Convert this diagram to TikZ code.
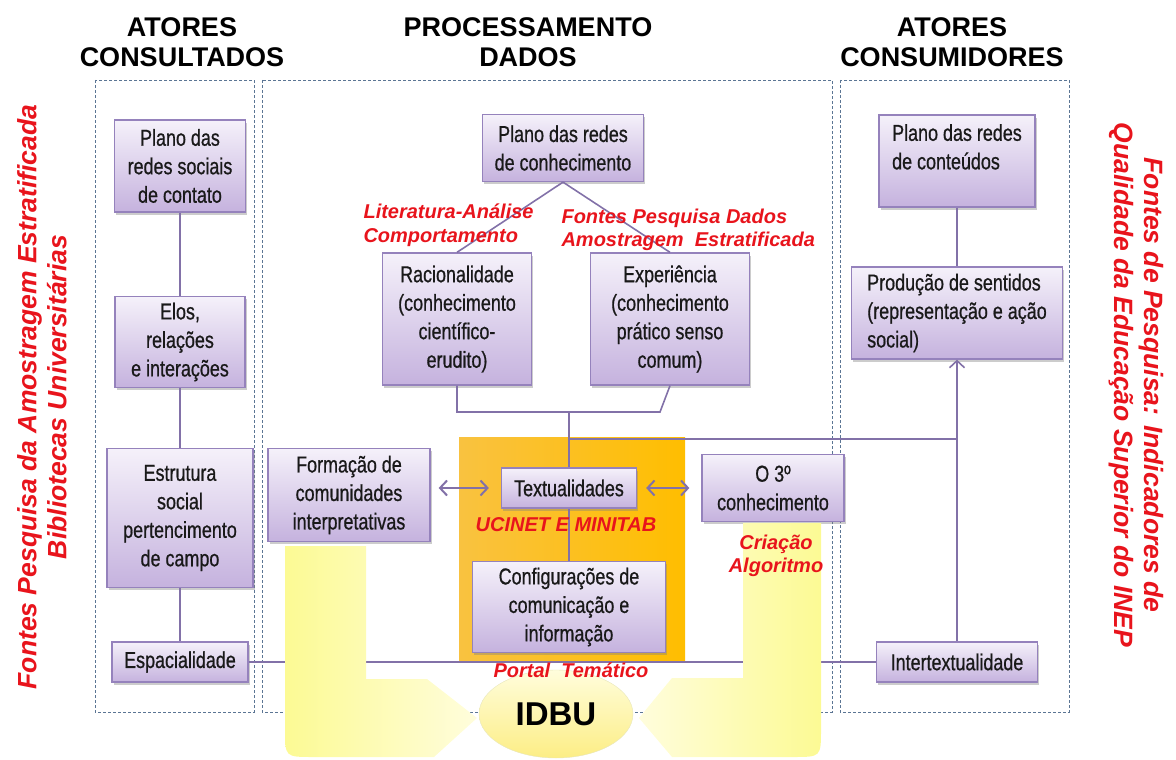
\documentclass[tikz,border=0pt]{standalone}
\usepackage{fontspec}
\setmainfont{Liberation Sans}
\newfontfamily\estreita[FakeStretch=0.78,FakeBold=0.7]{Liberation Sans}
\usetikzlibrary{shapes.geometric,shadows,arrows.meta}

\definecolor{caixaTopo}{HTML}{F5F1FA}
\definecolor{caixaBase}{HTML}{C5B2DE}
\definecolor{caixaBorda}{HTML}{9582BC}
\definecolor{linha}{HTML}{8271A8}
\definecolor{vermelho}{HTML}{E8141C}
\definecolor{tracejo}{HTML}{5B7594}
\definecolor{laranjaA}{HTML}{F9C240}
\definecolor{laranjaB}{HTML}{FFBE00}
\definecolor{amarelo}{HTML}{FCFA94}
\definecolor{amareloClaro}{HTML}{FFFDDC}

\tikzset{
	caixa/.style={rectangle, draw=caixaBorda, line width=1.3pt, top color=caixaTopo, bottom color=caixaBase,
		align=center, inner sep=2pt, text=black!90, font=\estreita\fontsize{23}{28.5}\selectfont,
		drop shadow={shadow xshift=1.5pt, shadow yshift=-2.5pt, opacity=.4}},
	ligacao/.style={draw=linha, line width=1.6pt},
	duplaseta/.style={draw=linha, line width=2pt, <->},
	rotulo/.style={text=vermelho, font=\bfseries\itshape\fontsize{20}{23.5}\selectfont, align=left},
	titulo/.style={font=\bfseries\fontsize{27}{30}\selectfont, align=center},
	lateral/.style={text=vermelho, font=\bfseries\itshape\fontsize{26.5}{30}\selectfont, align=center},
	tracejado/.style={draw=tracejo, dash pattern=on 3pt off 2pt, line width=0.9pt},
	>={Straight Barb[length=7pt,width=15pt]}
}

\begin{document}
\begin{tikzpicture}[x=1pt, y=-1pt]
	\useasboundingbox (0,0) rectangle (1176,760);
	%titles
	\node[titulo] (consultados) at (182,42) {ATORES\\CONSULTADOS};
	\node[titulo] (processamento) at (528,42) {PROCESSAMENTO\\DADOS};
	\node[titulo] (consumidores) at (952,42) {ATORES\\CONSUMIDORES};
	\node[lateral, rotate=90] (fontesEsq) at (42,397)
	{Fontes Pesquisa da Amostragem Estratificada\\Bibliotecas Universitárias};
	\node[lateral, rotate=-90] (fontesDir) at (1136,385)
	{Fontes de Pesquisa: Indicadores de\\Qualidade da Educação Superior do INEP};
	%columns
	\draw[tracejado] (95,80) rectangle (254,712);
	\draw[tracejado] (262,80) rectangle (832,712);
	\draw[tracejado] (840,80) rectangle (1069,712);
	%software block
	\shade[left color=laranjaA, right color=laranjaB] (459,437) rectangle (685,660);
	%left column
	\node[caixa, minimum width=131pt, minimum height=92pt] (redes) at (180,166) {Plano das\\redes sociais\\de contato};
	\node[caixa, minimum width=130pt, minimum height=91pt] (elos) at (180,342) {Elos,\\relações\\e interações};
	\node[caixa, minimum width=146pt, minimum height=139pt] (estrutura) at (180,518) {Estrutura\\social\\pertencimento\\de campo};
	\node[caixa, minimum width=136pt, minimum height=40pt] (espacial) at (180,662) {Espacialidade};
	%middle column
	\node[caixa, minimum width=161pt, minimum height=67pt] (conhecimento) at (563,148) {Plano das redes\\de conhecimento};
	\node[caixa, minimum width=149pt, minimum height=132pt] (racional) at (457,319) {Racionalidade\\(conhecimento\\científico-\\erudito)};
	\node[caixa, minimum width=159pt, minimum height=132pt] (experiencia) at (670,319) {Experiência\\(conhecimento\\prático senso\\comum)};
	\node[caixa, minimum width=162pt, minimum height=93pt] (formacao) at (349,495) {Formação de\\comunidades\\interpretativas};
	\node[caixa, minimum width=135pt, minimum height=40pt] (textual) at (569,488) {Textualidades};
	\node[caixa, minimum width=193pt, minimum height=91pt] (config) at (569,607) {Configurações de\\comunicação e\\informação};
	\node[caixa, minimum width=142pt, minimum height=67pt] (terceiro) at (773,488) {O 3º\\conhecimento};
	%right column
	\node[caixa, align=left, minimum width=156pt, minimum height=92pt] (conteudos) at (957,161) {Plano das redes\\de conteúdos\\\mbox{}};
	\node[caixa, align=left, minimum width=211pt, minimum height=92pt] (producao) at (957,313) {Produção de sentidos\\(representação e ação\\social)};
	\node[caixa, minimum width=161pt, minimum height=40pt] (intertext) at (957,662) {Intertextualidade};
	%lines
	\draw[ligacao] (redes) -- (elos);
	\draw[ligacao] (elos) -- (estrutura);
	\draw[ligacao] (estrutura) -- (espacial);
	\draw[ligacao] (conhecimento.south) -- (racional.north);
	\draw[ligacao] (conhecimento.south) -- (experiencia.north);
	\coordinate (barra) at (569,412);
	\coordinate (juncao) at (957,439);
	\draw[ligacao] (racional.south) -- (racional.south |- barra) -- ([xshift=91pt]barra) -- (experiencia.south);
	\draw[ligacao] (barra) -- (textual.north);
	\draw[ligacao] (textual.south) -- (config.north);
	\draw[ligacao] (barra |- juncao) -- (juncao);
	\draw[ligacao] (conteudos) -- (producao);
	\draw[ligacao, ->] (intertext) -- (producao);
	\draw[ligacao] (espacial) -- (intertext);
	\draw[duplaseta, shorten <=8pt, shorten >=12pt] (formacao.east |- textual) -- (textual.west);
	\draw[duplaseta, shorten <=9pt, shorten >=12pt] (textual.east) -- (terceiro.west |- textual);
	%IDBU arrows
	\shade[left color=amarelo, right color=amareloClaro] (285,546) -- (366,546) -- (366,679) -- (427,679) -- (477,718)
		-- (434,757) -- (313,757) .. controls (285,757) .. (285,729) -- cycle;
	\shade[left color=amareloClaro, right color=amarelo] (743,523) -- (821,523) -- (821,729) .. controls (821,757) .. (793,757)
		-- (672,757) -- (639,718) -- (672,678) -- (743,678) -- cycle;
	\node[ellipse, minimum width=154pt, minimum height=88pt, draw=amarelo!70!gray!60, top color=amareloClaro, bottom color=amarelo!90!orange,
		font=\bfseries\fontsize{33}{36}\selectfont] (idbu) at (556,714) {IDBU};
	%red labels
	\node[rotulo, anchor=west] (literatura) at (360,225) {Literatura-Análise\\Comportamento};
	\node[rotulo, anchor=west] (fontesDados) at (558,230) {Fontes Pesquisa Dados\\Amostragem\ \ Estratificada};
	\node[rotulo] (ucinet) at (566,525) {UCINET E MINITAB};
	\node[rotulo, align=center] (criacao) at (776,556) {Criação\\Algoritmo};
	\node[rotulo] (portal) at (571,670) {Portal\ \ Temático};
\end{tikzpicture}
\end{document}
